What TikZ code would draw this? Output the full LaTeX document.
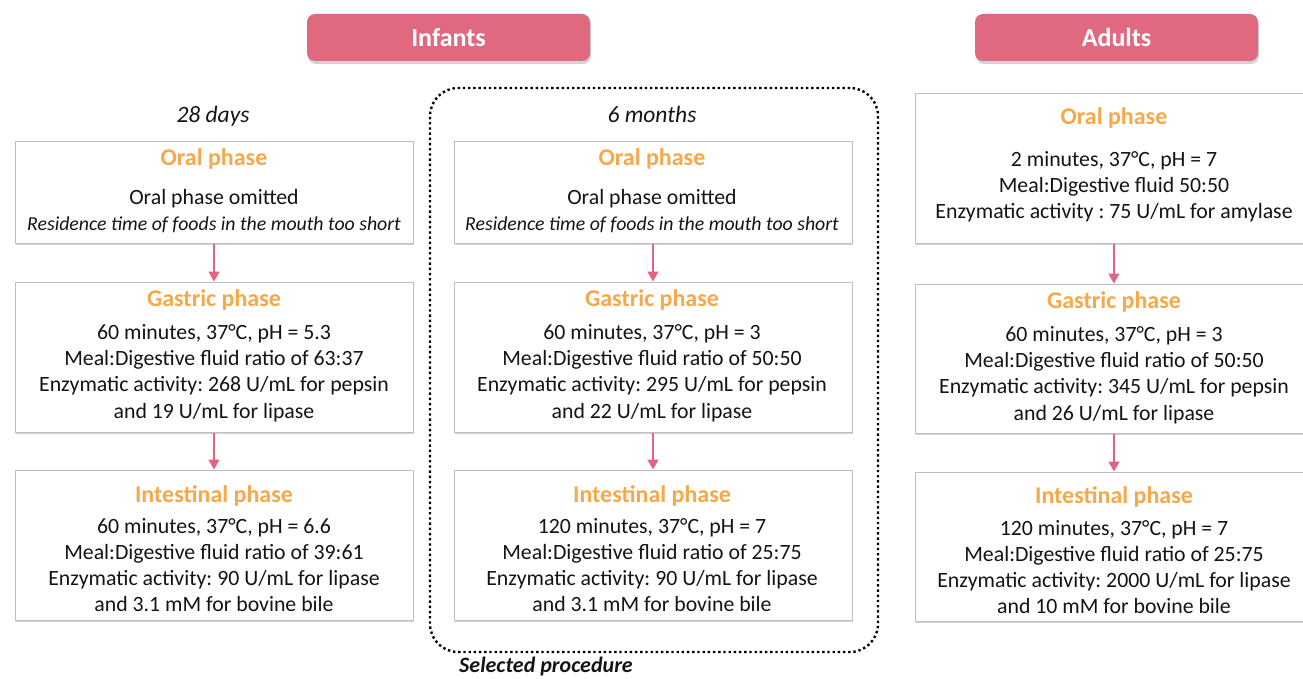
\documentclass[tikz,border=0pt]{standalone}
\usepackage{fontspec}
\setmainfont{Carlito}
\frenchspacing
\usetikzlibrary{arrows.meta,shadows}
\definecolor{hdrpink}{RGB}{224,105,128}
\definecolor{titorange}{RGB}{246,168,74}
\definecolor{arrpink}{RGB}{226,100,128}
\definecolor{txtgray}{RGB}{20,20,20}
\tikzset{
  phasebox/.style={draw=black!25, line width=1pt, fill=white, inner sep=0pt,
    drop shadow={shadow xshift=1pt, shadow yshift=-1.8pt, opacity=0.35}},
  hdrbox/.style={fill=hdrpink, rounded corners=8pt, minimum width=283pt, minimum height=47pt,
    inner sep=0pt, text=white, font=\bfseries\fontsize{26}{30}\selectfont,
    drop shadow={shadow xshift=1pt, shadow yshift=-3pt, opacity=0.35}},
  phasetitle/.style={text=titorange, font=\bfseries\fontsize{24}{28}\selectfont, inner sep=0pt},
  bodytext/.style={align=center, text=txtgray, font=\fontsize{21.8}{26.2}\selectfont, inner sep=0pt},
  agelabel/.style={text=txtgray, font=\itshape\fontsize{23.5}{26}\selectfont, inner sep=0pt},
  flowarrow/.style={draw=arrpink, line width=1.6pt, -{Triangle[width=11pt,length=10pt]}},
  dotbox/.style={draw=black, line width=2.4pt, dash pattern=on 2.4pt off 2.8pt, rounded corners=28pt,
    minimum width=448pt, minimum height=564pt, inner sep=0pt}
}
\newcommand{\resline}{{\itshape\fontsize{19.8}{26}\selectfont Residence time of foods in the mouth too short}}
\begin{document}
\begin{tikzpicture}[x=1pt,y=-1pt]
\useasboundingbox (0,0) rectangle (1303,679);

% headers
\node[hdrbox] (hinf) at (448.5,37.5) {Infants};
\node[hdrbox] (hadu) at (1116.5,37.5) {Adults};

% selected procedure frame
\node[dotbox] (sel) at (654,370) {};
\node[text=txtgray, font=\bfseries\itshape\fontsize{22}{24}\selectfont, inner sep=0pt] (selL) at (546,667) {Selected procedure};

% age labels
\node[agelabel] (age1) at (213,116) {28 days};
\node[agelabel] (age2) at (652,114) {6 months};

% ---------- column 1 ----------
\node[phasebox, minimum width=398pt, minimum height=101pt] (o1) at (214,192.5) {};
\node[phasebox, minimum width=398pt, minimum height=150pt] (g1) at (214,357) {};
\node[phasebox, minimum width=398pt, minimum height=150pt] (i1) at (214,545) {};
\node[phasetitle] (o1t) at (214,159) {Oral phase};
\node[bodytext] (o1b) at (214,211) {Oral phase omitted\\\resline};
\node[phasetitle] (g1t) at (214,300) {Gastric phase};
\node[bodytext] (g1b) at (214,373) {60 minutes, 37°C, pH = 5.3\\Meal:Digestive fluid ratio of 63:37\\Enzymatic activity: 268 U/mL for pepsin\\and 19 U/mL for lipase};
\node[phasetitle] (i1t) at (214,496) {Intestinal phase};
\node[bodytext] (i1b) at (214,565) {60 minutes, 37°C, pH = 6.6\\Meal:Digestive fluid ratio of 39:61\\Enzymatic activity: 90 U/mL for lipase\\and 3.1 mM for bovine bile};

% ---------- column 2 ----------
\node[phasebox, minimum width=398pt, minimum height=101pt] (o2) at (653,192.5) {};
\node[phasebox, minimum width=398pt, minimum height=150pt] (g2) at (653,357) {};
\node[phasebox, minimum width=398pt, minimum height=150pt] (i2) at (653,545) {};
\node[phasetitle] (o2t) at (652,159) {Oral phase};
\node[bodytext] (o2b) at (652,211) {Oral phase omitted\\\resline};
\node[phasetitle] (g2t) at (652,300) {Gastric phase};
\node[bodytext] (g2b) at (652,373) {60 minutes, 37°C, pH = 3\\Meal:Digestive fluid ratio of 50:50\\Enzymatic activity: 295 U/mL for pepsin\\and 22 U/mL for lipase};
\node[phasetitle] (i2t) at (652,496) {Intestinal phase};
\node[bodytext] (i2b) at (652,565) {120 minutes, 37°C, pH = 7\\Meal:Digestive fluid ratio of 25:75\\Enzymatic activity: 90 U/mL for lipase\\and 3.1 mM for bovine bile};

% ---------- column 3 ----------
\node[phasebox, minimum width=398pt, minimum height=149pt] (o3) at (1114,168.5) {};
\node[phasebox, minimum width=398pt, minimum height=149pt] (g3) at (1114,358.5) {};
\node[phasebox, minimum width=398pt, minimum height=149pt] (i3) at (1114,546.5) {};
\node[phasetitle] (o3t) at (1114,118) {Oral phase};
\node[bodytext] (o3b) at (1114,187) {2 minutes, 37°C, pH = 7\\Meal:Digestive fluid 50:50\\Enzymatic activity : 75 U/mL for amylase};
\node[phasetitle] (g3t) at (1114,302) {Gastric phase};
\node[bodytext] (g3b) at (1114,375) {60 minutes, 37°C, pH = 3\\Meal:Digestive fluid ratio of 50:50\\Enzymatic activity: 345 U/mL for pepsin\\and 26 U/mL for lipase};
\node[phasetitle] (i3t) at (1114,497) {Intestinal phase};
\node[bodytext] (i3b) at (1114,567) {120 minutes, 37°C, pH = 7\\Meal:Digestive fluid ratio of 25:75\\Enzymatic activity: 2000 U/mL for lipase\\and 10 mM for bovine bile};

% arrows
\draw[flowarrow] (o1.south) -- (g1.north);
\draw[flowarrow] (g1.south) -- (i1.north);
\draw[flowarrow] (o2.south) -- (g2.north);
\draw[flowarrow] (g2.south) -- (i2.north);
\draw[flowarrow] (o3.south) -- (g3.north);
\draw[flowarrow] (g3.south) -- (i3.north);
\end{tikzpicture}
\end{document}
